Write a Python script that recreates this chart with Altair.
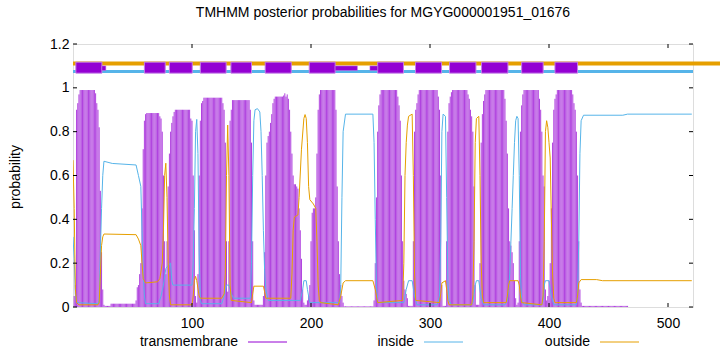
import altair as alt
import pandas as pd

W, H = 620, 263
XMAX = 521
FONT = "Liberation Sans"

# posterior probability of transmembrane, residues 1..520
tm_prob = [
    0.05, 0.1, 0.9, 0.93, 0.97, 0.99, 0.99, 0.99, 0.99, 0.99,
    0.99, 0.99, 0.99, 0.99, 0.99, 0.99, 0.99, 0.99, 0.975, 0.93,
    0.9, 0.82, 0.53, 0.25, 0.08, 0.01, 0.005, 0.005, 0.005, 0.005,
    0.005, 0.015, 0.015, 0.015, 0.015, 0.015, 0.015, 0.015, 0.015, 0.015,
    0.015, 0.015, 0.015, 0.015, 0.015, 0.015, 0.015, 0.015, 0.015, 0.015,
    0.015, 0.015, 0.03, 0.09, 0.1, 0.15, 0.2, 0.45, 0.72, 0.85,
    0.88, 0.885, 0.885, 0.885, 0.885, 0.885, 0.885, 0.885, 0.885, 0.885,
    0.885, 0.885, 0.87, 0.86, 0.8, 0.6, 0.3, 0.15, 0.3, 0.55,
    0.7, 0.8, 0.84, 0.87, 0.89, 0.9, 0.9, 0.9, 0.9, 0.9,
    0.9, 0.9, 0.9, 0.9, 0.9, 0.9, 0.9, 0.9, 0.86, 0.85,
    0.6, 0.35, 0.05, 0.02, 0.15, 0.6, 0.85, 0.93, 0.94, 0.955,
    0.955, 0.955, 0.955, 0.955, 0.955, 0.955, 0.955, 0.955, 0.955, 0.955,
    0.955, 0.955, 0.955, 0.955, 0.955, 0.93, 0.9, 0.75, 0.3, 0.07,
    0.3, 0.85, 0.9, 0.944, 0.944, 0.944, 0.944, 0.944, 0.944, 0.944,
    0.944, 0.944, 0.944, 0.944, 0.944, 0.944, 0.944, 0.944, 0.9, 0.75,
    0.3, 0.03, 0.01, 0.01, 0.01, 0.01, 0.01, 0.01, 0.01, 0.05,
    0.25, 0.6, 0.75, 0.78, 0.8, 0.84, 0.88, 0.93, 0.95, 0.96,
    0.96, 0.96, 0.96, 0.96, 0.96, 0.96, 0.965, 0.975, 0.96, 0.97,
    0.95, 0.9, 0.8, 0.7, 0.6, 0.56, 0.56, 0.55, 0.54, 0.45,
    0.35, 0.22, 0.08, 0.02, 0.01, 0.01, 0.03, 0.05, 0.1, 0.3,
    0.43, 0.45, 0.45, 0.5, 0.7, 0.9, 0.97, 0.99, 0.99, 0.99,
    0.99, 0.99, 0.99, 0.99, 0.99, 0.99, 0.99, 0.99, 0.99, 0.99,
    0.9, 0.55, 0.3, 0.15, 0.1, 0.05, 0.02, 0.003, 0.003, 0.003,
    0.003, 0.003, 0.003, 0.003, 0.003, 0.003, 0.003, 0.003, 0.003, 0.003,
    0.003, 0.003, 0.003, 0.003, 0.003, 0.003, 0.003, 0.003, 0.003, 0.003,
    0.003, 0.003, 0.03, 0.2, 0.5, 0.8, 0.92, 0.97, 0.99, 0.99,
    0.99, 0.99, 0.99, 0.99, 0.99, 0.99, 0.99, 0.99, 0.99, 0.99,
    0.99, 0.99, 0.96, 0.92, 0.85, 0.6, 0.3, 0.12, 0.08, 0.06,
    0.04, 0.005, 0.005, 0.005, 0.005, 0.3, 0.8, 0.9, 0.93, 0.97,
    0.99, 0.99, 0.99, 0.99, 0.99, 0.99, 0.99, 0.99, 0.99, 0.99,
    0.99, 0.99, 0.99, 0.99, 0.99, 0.99, 0.96, 0.9, 0.6, 0.1,
    0.005, 0.005, 0.005, 0.3, 0.8, 0.93, 0.96, 0.98, 0.99, 0.99,
    0.99, 0.99, 0.99, 0.99, 0.99, 0.99, 0.99, 0.99, 0.99, 0.99,
    0.99, 0.97, 0.95, 0.9, 0.87, 0.8, 0.55, 0.1, 0.01, 0.01,
    0.01, 0.2, 0.75, 0.88, 0.94, 0.97, 0.99, 0.99, 0.99, 0.99,
    0.99, 0.99, 0.99, 0.99, 0.99, 0.99, 0.99, 0.99, 0.99, 0.99,
    0.99, 0.99, 0.95, 0.85, 0.7, 0.45, 0.3, 0.28, 0.25, 0.2,
    0.12, 0.04, 0.01, 0.02, 0.3, 0.8, 0.92, 0.97, 0.99, 0.99,
    0.99, 0.99, 0.99, 0.99, 0.99, 0.99, 0.99, 0.99, 0.99, 0.99,
    0.99, 0.95, 0.9, 0.8, 0.6, 0.55, 0.08, 0.03, 0.05, 0.12,
    0.2, 0.45, 0.75, 0.9, 0.95, 0.97, 0.99, 0.99, 0.99, 0.99,
    0.99, 0.99, 0.99, 0.99, 0.99, 0.99, 0.99, 0.99, 0.99, 0.97,
    0.93, 0.9, 0.8, 0.6, 0.3, 0.08, 0.02, 0.005, 0.005, 0.005,
    0.005, 0.005, 0.005, 0.005, 0.005, 0.005, 0.005, 0.005, 0.005, 0.005,
    0.005, 0.005, 0.005, 0.005, 0.005, 0.005, 0.005, 0.005, 0.005, 0.005,
    0.005, 0.005, 0.005, 0.005, 0.005, 0.005, 0.005, 0.005, 0.005, 0.005,
    0.005, 0.005, 0.005, 0.005, 0.005, 0.005, 0, 0, 0, 0,
    0, 0, 0, 0, 0, 0, 0, 0, 0, 0,
    0, 0, 0, 0, 0, 0, 0, 0, 0, 0,
    0, 0, 0, 0, 0, 0, 0, 0, 0, 0,
    0, 0, 0, 0, 0, 0, 0, 0, 0, 0,
    0, 0, 0, 0, 0, 0, 0, 0, 0, 0,
]

# inside probability (residue, value) points
inside_x = [0, 1, 2, 3, 21, 22, 23, 24, 25, 26, 33, 53, 55, 57, 58, 59, 60, 61, 72, 74, 76, 78, 80,
            82, 83, 84, 100, 101, 102, 103, 104, 105, 106, 107, 108, 125, 127, 129, 131, 133, 135,
            149, 150, 151, 152, 153, 155, 157, 158, 159, 160, 161, 162, 164, 191, 193, 194, 196,
            197, 199, 224, 225, 226, 227, 229, 252, 253, 254, 255, 256, 278, 280, 282, 285, 287,
            289, 306, 308, 309, 310, 311, 313, 314, 315, 316, 318, 335, 336, 338, 339, 341, 343,
            345, 363, 365, 366, 367, 368, 369, 370, 371, 372, 373, 374, 375, 376, 377, 379, 394,
            395, 396, 397, 400, 402, 404, 423, 424, 425, 426, 427, 429, 462, 466, 520]
inside_y = [0.32, 0.22, 0.06, 0.02, 0.015, 0.03, 0.25, 0.45, 0.6, 0.665, 0.655, 0.648, 0.6, 0.55,
            0.35, 0.15, 0.05, 0.015, 0.015, 0.05, 0.1, 0.175, 0.19, 0.2, 0.12, 0.1, 0.1, 0.2, 0.45,
            0.8, 0.856, 0.7, 0.25, 0.03, 0.015, 0.015, 0.05, 0.1, 0.1, 0.06, 0.04, 0.04, 0.2, 0.6,
            0.85, 0.9, 0.905, 0.89, 0.8, 0.6, 0.35, 0.17, 0.08, 0.03, 0.03, 0.08, 0.12, 0.12, 0.08,
            0.02, 0.02, 0.1, 0.5, 0.8, 0.88, 0.88, 0.75, 0.4, 0.1, 0.02, 0.02, 0.08, 0.12, 0.12,
            0.05, 0.01, 0.01, 0.05, 0.3, 0.8, 0.88, 0.87, 0.5, 0.12, 0.03, 0.01, 0.01, 0.02, 0.1,
            0.12, 0.12, 0.04, 0.01, 0.01, 0.03, 0.08, 0.15, 0.3, 0.45, 0.6, 0.75, 0.85, 0.87, 0.86,
            0.6, 0.15, 0.03, 0.01, 0.01, 0.03, 0.1, 0.12, 0.12, 0.05, 0.01, 0.01, 0.05, 0.3, 0.7,
            0.85, 0.875, 0.875, 0.88, 0.88]

# outside probability (residue, value) points
outside_x = [0, 1, 2, 3, 5, 21, 22, 23, 24, 25, 26, 53, 55, 57, 58, 59, 61, 71, 73, 75, 76, 77, 78,
             79, 80, 81, 82, 100, 101, 102, 103, 104, 106, 107, 125, 127, 128, 129, 130, 131, 132,
             133, 150, 151, 152, 160, 161, 162, 183, 184, 185, 186, 189, 190, 192, 194, 195, 196,
             197, 198, 199, 202, 204, 205, 206, 207, 208, 223, 225, 227, 229, 252, 254, 256, 277,
             278, 279, 280, 281, 282, 285, 286, 287, 288, 308, 309, 310, 313, 314, 315, 316, 335,
             336, 337, 338, 339, 341, 342, 343, 344, 345, 364, 365, 366, 367, 374, 375, 376, 377,
             394, 395, 396, 397, 398, 399, 400, 401, 402, 403, 404, 405, 423, 424, 425, 427, 440,
             445, 520]
outside_y = [0.67, 0.45, 0.08, 0.02, 0.01, 0.01, 0.02, 0.15, 0.28, 0.32, 0.333, 0.33, 0.31, 0.28,
             0.2, 0.13, 0.11, 0.115, 0.13, 0.2, 0.35, 0.6, 0.656, 0.5, 0.2, 0.05, 0.01, 0.01, 0.05,
             0.12, 0.14, 0.12, 0.05, 0.04, 0.04, 0.06, 0.15, 0.6, 0.83, 0.6, 0.1, 0.03, 0.02, 0.06,
             0.095, 0.095, 0.07, 0.04, 0.04, 0.15, 0.35, 0.41, 0.42, 0.5, 0.72, 0.86, 0.878, 0.86,
             0.75, 0.55, 0.49, 0.47, 0.45, 0.3, 0.1, 0.03, 0.02, 0.01, 0.05, 0.11, 0.12, 0.12, 0.08,
             0.02, 0.03, 0.2, 0.6, 0.75, 0.83, 0.87, 0.88, 0.6, 0.15, 0.03, 0.02, 0.06, 0.11, 0.12,
             0.08, 0.03, 0.01, 0.01, 0.05, 0.3, 0.75, 0.86, 0.87, 0.6, 0.2, 0.05, 0.02, 0.02, 0.05,
             0.1, 0.12, 0.12, 0.1, 0.05, 0.02, 0.01, 0.05, 0.3, 0.8, 0.85, 0.82, 0.75, 0.68, 0.4,
             0.15, 0.04, 0.02, 0.02, 0.05, 0.11, 0.125, 0.125, 0.12, 0.12]

# predicted helices (top bar)
helix_start = [2.4, 60, 81, 107, 132.7, 161.5, 198.5, 256, 287.8, 316.4, 343.3, 377, 405]
helix_end = [24.3, 77.5, 100.2, 128.7, 150, 183.4, 220.3, 277.7, 309.7, 338.6, 365.5, 395.1, 424]
thin_start = [24.3, 220.3, 249.5]
thin_end = [27.6, 239, 256]

x_ticks = [100, 200, 300, 400, 500]
y_ticks = [0, 0.2, 0.4, 0.6, 0.8, 1.0, 1.2]

PURPLE = "#9400D3"
BLUE = "#56B4E9"
ORANGE = "#E69F00"

xs = alt.Scale(domain=[0, XMAX], nice=False, zero=False)
ys = alt.Scale(domain=[0, 1.2], nice=False)
xa = alt.Axis(values=x_ticks, title=None, ticks=False, domain=False, grid=False, labelFont=FONT,
              labelFontSize=14, labelColor="#000", labelPadding=9, labelFlush=False)
ya = alt.Axis(values=y_ticks, format="~g", title=None, ticks=False, domain=False, grid=False,
              labelFont=FONT, labelFontSize=14, labelColor="#000", labelPadding=4)


def X(f):
    return alt.X(f, scale=xs, axis=xa, title=None)


def Y(f):
    return alt.Y(f, scale=ys, axis=ya, title=None)


tm_df = pd.DataFrame({"r": list(range(1, len(tm_prob) + 1)), "p": tm_prob})
tm_df = tm_df[tm_df.p > 0]
tm_df["base"] = 0.0
in_df = pd.DataFrame({"r": inside_x, "p": inside_y})
out_df = pd.DataFrame({"r": outside_x, "p": outside_y})
hel_df = pd.DataFrame({"s": helix_start, "e": helix_end, "y1": 1.067, "y2": 1.117})
thin_df = pd.DataFrame({"s": thin_start, "e": thin_end, "y1": 1.079, "y2": 1.1})
top_df = pd.DataFrame({"s": [0, 0], "e": [545, XMAX], "y": [1.111, 1.074],
                       "c": [ORANGE, BLUE], "w": [4, 3]})

impulses = alt.Chart(tm_df).mark_rule(strokeWidth=1, color=PURPLE, opacity=0.75).encode(
    x=X("r:Q"), y=Y("p:Q"), y2="base:Q")

inside = alt.Chart(in_df).mark_line(color=BLUE, strokeWidth=1, clip=True).encode(
    x=X("r:Q"), y=Y("p:Q"))
outside = alt.Chart(out_df).mark_line(color=ORANGE, strokeWidth=1, clip=True).encode(
    x=X("r:Q"), y=Y("p:Q"))

top_lines = alt.Chart(top_df).mark_rule(clip=False).encode(
    x=X("s:Q"), x2="e:Q", y=Y("y:Q"),
    color=alt.Color("c:N", scale=None), strokeWidth=alt.StrokeWidth("w:Q", scale=None))

helices = alt.Chart(hel_df).mark_rect(color=PURPLE, stroke="#c27fe6", strokeWidth=1).encode(
    x=X("s:Q"), x2="e:Q", y=Y("y1:Q"), y2="y2:Q")
thin = alt.Chart(thin_df).mark_rect(color=PURPLE, stroke="#c27fe6", strokeWidth=0.5).encode(
    x=X("s:Q"), x2="e:Q", y=Y("y1:Q"), y2="y2:Q")

# inward ticks (gnuplot style) on all four sides
xt_df = pd.DataFrame({"v": x_ticks})
yt_df = pd.DataFrame({"v": y_ticks})
TL = 4
xt_bot = alt.Chart(xt_df).mark_rule(color="#000").encode(
    x=X("v:Q"), y=alt.value(H), y2=alt.value(H - TL))
xt_top = alt.Chart(xt_df).mark_rule(color="#000").encode(
    x=X("v:Q"), y=alt.value(0), y2=alt.value(TL))
yt_l = alt.Chart(yt_df).mark_rule(color="#000").encode(
    y=Y("v:Q"), x=alt.value(0), x2=alt.value(TL))
yt_r = alt.Chart(yt_df).mark_rule(color="#000").encode(
    y=Y("v:Q"), x=alt.value(W), x2=alt.value(W - TL))

one = pd.DataFrame({"a": [0]})
title = alt.Chart(one).mark_text(text="TMHMM posterior probabilities for MGYG000001951_01676",
                                 font=FONT, fontSize=14, align="center", baseline="middle",
                                 color="#000").encode(x=alt.value(W / 2), y=alt.value(-31))
ytitle = alt.Chart(one).mark_text(text="probability", font=FONT, fontSize=14, angle=270,
                                  align="center", baseline="middle", color="#000").encode(
    x=alt.value(-57), y=alt.value(133))

legend_names = ["transmembrane", "inside", "outside"]
legend_colors = [PURPLE, BLUE, ORANGE]
legend_text_right = [165, 341, 517]
LEG_Y = 297.5
leg_layers = []
for name, col, xr in zip(legend_names, legend_colors, legend_text_right):
    leg_layers.append(alt.Chart(one).mark_text(text=name, font=FONT, fontSize=14, align="right",
                                               baseline="middle", color="#000").encode(
        x=alt.value(xr), y=alt.value(LEG_Y)))
    leg_layers.append(alt.Chart(one).mark_rule(color=col, strokeWidth=1).encode(
        x=alt.value(xr + 10), x2=alt.value(xr + 49), y=alt.value(LEG_Y + 0.5)))

chart = alt.layer(
    impulses, inside, outside, top_lines, helices, thin,
    xt_bot, xt_top, yt_l, yt_r, title, ytitle, *leg_layers
).properties(
    width=W, height=H,
    autosize=alt.AutoSizeParams(type="none"),
    padding={"left": 73, "top": 44, "right": 27, "bottom": 45},
).configure_view(
    stroke="#000", strokeWidth=1
).configure(background="white")

chart.save("out.html", embed_options={"renderer": "svg", "actions": False})
